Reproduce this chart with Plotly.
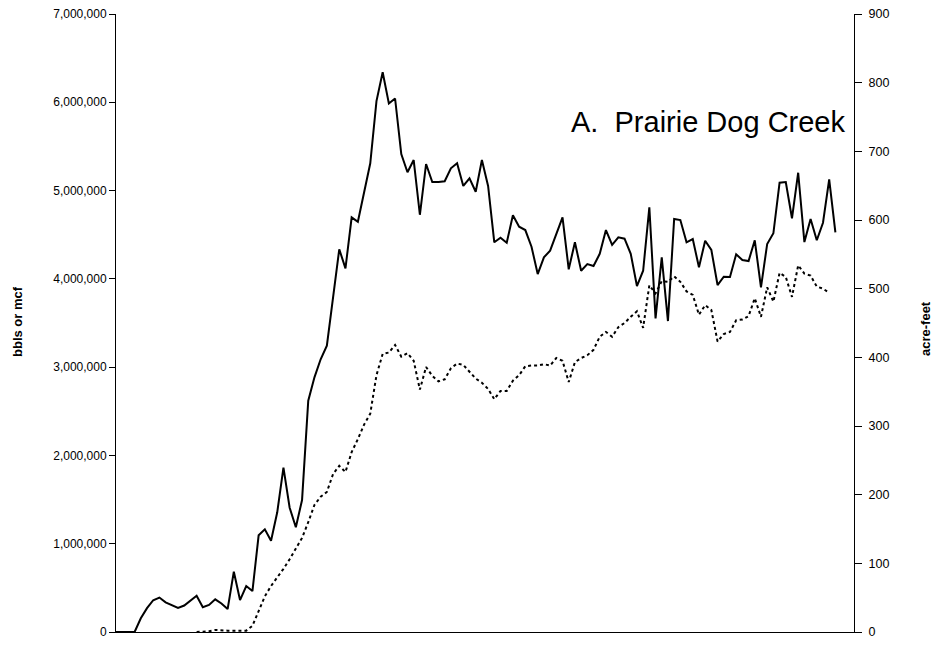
import plotly.graph_objects as go

# period index (no x labels shown in the reference; 120 category slots, data fill 117)
periods = list(range(117))
n_slots = 120

# solid line: bbls or mcf (left axis)
bbls_mcf = [
    0, 0, 0, 0, 155000, 270000, 360000, 390000, 336000, 305000,
    272000, 300000, 357000, 411000, 280000, 306000, 370000, 323000, 260000, 683000,
    362000, 521000, 464000, 1095000, 1163000, 1034000, 1356000, 1861000, 1408000, 1186000,
    1495000, 2620000, 2885000, 3089000, 3243000, 3770000, 4335000, 4119000, 4697000, 4647000,
    4969000, 5309000, 6014000, 6340000, 5986000, 6043000, 5414000, 5207000, 5346000, 4726000,
    5301000, 5097000, 5097000, 5105000, 5252000, 5309000, 5052000, 5139000, 4987000, 5346000,
    5052000, 4414000, 4466000, 4409000, 4720000, 4591000, 4553000, 4364000, 4054000, 4244000,
    4319000, 4516000, 4697000, 4108000, 4414000, 4092000, 4168000, 4145000, 4284000, 4553000,
    4386000, 4470000, 4455000, 4284000, 3919000, 4092000, 4810000, 3553000, 4244000, 3522000,
    4678000, 4666000, 4414000, 4451000, 4131000, 4432000, 4327000, 3930000, 4024000, 4021000,
    4278000, 4214000, 4202000, 4437000, 3904000, 4395000, 4516000, 5089000, 5097000, 4686000,
    5202000, 4417000, 4678000, 4437000, 4636000, 5127000, 4527000,
]

# dotted line: acre-feet (right axis)
acre_feet = [None] * 13 + [
    0, 0.5, 1, 3, 2, 2, 2, 2, 2, 9,
    32, 52, 67, 79, 92, 106, 122, 137, 160, 185,
    197, 204, 230, 242, 233, 262, 281, 302, 318, 374,
    405, 407, 418, 401, 406, 395, 353, 386, 373, 365,
    368, 384, 391, 389, 379, 369, 363, 354, 339, 351,
    351, 366, 374, 387, 388, 388, 390, 388, 399, 395,
    364, 393, 399, 403, 411, 430, 437, 430, 444, 450,
    459, 467, 443, 505, 493, 511, 510, 518, 510, 496,
    491, 462, 476, 469, 423, 434, 437, 454, 455, 460,
    486, 459, 502, 481, 523, 517, 488, 534, 522, 519,
    503, 500, 494, None,
]

left_ticks = list(range(0, 7000001, 1000000))
right_ticks = list(range(0, 901, 100))

FONT = "Arial, 'Liberation Sans', sans-serif"

fig = go.Figure()
fig.add_trace(go.Scatter(
    x=periods, y=bbls_mcf, mode="lines",
    line=dict(color="black", width=2), yaxis="y", showlegend=False,
))
fig.add_trace(go.Scatter(
    x=periods, y=acre_feet, mode="lines",
    line=dict(color="black", width=2, dash="3px,3px"), yaxis="y2",
    showlegend=False, connectgaps=False,
))

# page body has an 8px margin; size the figure so the plot area lands at
# x 116..854, y 14..632 in the 940x645 window
fig.update_layout(
    width=932, height=637,
    margin=dict(l=108, r=86, t=6, b=13, pad=0, autoexpand=False),
    paper_bgcolor="white", plot_bgcolor="white",
    font=dict(family=FONT, size=12, color="black"),
    xaxis=dict(
        range=[0, n_slots - 1], showgrid=False, zeroline=False,
        showline=True, linecolor="black", linewidth=1,
        showticklabels=False, ticks="", automargin=False,
    ),
    yaxis=dict(
        range=[0, 7000000], tickvals=left_ticks, tickformat=",",
        showgrid=False, zeroline=False, showline=True, linecolor="black",
        linewidth=1, ticks="outside", ticklen=6, tickcolor="black",
        tickfont=dict(size=12, family=FONT), automargin=False,
        ticklabeloverflow="allow",
    ),
    yaxis2=dict(
        range=[0, 900], tickvals=right_ticks, overlaying="y", side="right",
        showgrid=False, zeroline=False, showline=True, linecolor="black",
        linewidth=1, ticks="outside", ticklen=7, tickcolor="black",
        tickfont=dict(size=12.5, family=FONT), automargin=False,
        ticklabeloverflow="allow", ticklabelstandoff=4,
    ),
    annotations=[
        dict(text="A.\u00a0 Prairie Dog Creek", xref="paper", yref="paper",
             x=(569 - 116) / 738, y=(632 - 122) / 618, xanchor="left", yanchor="middle",
             showarrow=False, font=dict(size=29, family=FONT, color="black")),
        dict(text="<b>bbls or mcf</b>", xref="paper", yref="paper",
             x=(17 - 116) / 738, y=(632 - 322) / 618, textangle=-90,
             xanchor="center", yanchor="middle", showarrow=False,
             font=dict(size=13, family=FONT, color="black")),
        dict(text="<b>acre-feet</b>", xref="paper", yref="paper",
             x=(925 - 116) / 738, y=(632 - 328) / 618, textangle=-90,
             xanchor="center", yanchor="middle", showarrow=False,
             font=dict(size=13, family=FONT, color="black")),
    ],
)

fig.write_html("out.html")
